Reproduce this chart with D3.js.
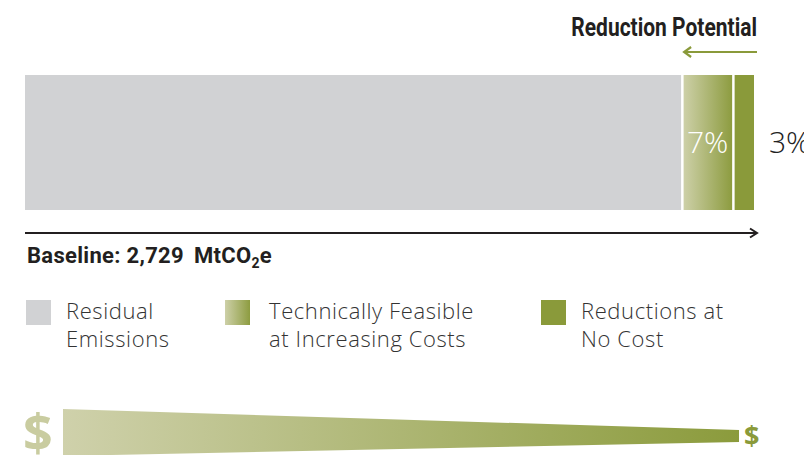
<!DOCTYPE html>
<html>
<head>
<meta charset="utf-8">
<script src="https://cdn.jsdelivr.net/npm/d3@7"></script>
<style>
  html, body { margin: 0; padding: 0; background: #fff; }
  svg { display: block; }
  .cond { font-family: Roboto, "Liberation Sans", sans-serif; font-weight: bold; }
  .light { font-family: "Open Sans", "Lato", "DejaVu Sans", sans-serif; font-weight: 300; }
</style>
</head>
<body>
<svg id="chart" width="804" height="455"></svg>
<script>
// Emission shares of the baseline (percent)
const categories = ["Residual Emissions", "Technically Feasible at Increasing Costs", "Reductions at No Cost"];
const legendLines = [["Residual", "Emissions"], ["Technically Feasible", "at Increasing Costs"], ["Reductions at", "No Cost"]];
const shares = [90, 7, 3];
const shareLabels = ["", "7%", "3%"];
const baselineValue = 2729;
const unitLabel = "MtCO";

const svg = d3.select("#chart");
const defs = svg.append("defs");

const grey = "#d1d2d4";
const green = "#8a9a3a";

const grad = defs.append("linearGradient").attr("id", "feasible").attr("x1", "0%").attr("x2", "100%");
grad.append("stop").attr("offset", "0%").attr("stop-color", "#cdd0a8");
grad.append("stop").attr("offset", "100%").attr("stop-color", "#8d9c40");

const costGrad = defs.append("linearGradient").attr("id", "cost").attr("x1", "0%").attr("x2", "100%");
costGrad.append("stop").attr("offset", "0%").attr("stop-color", "#cfd1ab");
costGrad.append("stop").attr("offset", "100%").attr("stop-color", "#8b9b3c");

const fills = [grey, "url(#feasible)", green];

// horizontal scale: percent of baseline
const x = d3.scaleLinear().domain([0, 100]).range([25, 754]);
const barTop = 75, barBottom = 210;

let cum = 0;
const segs = shares.map((v, i) => {
  const s = { i, v, x0: cum, x1: cum + v };
  cum += v;
  return s;
});

svg.append("g").selectAll("rect").data(segs).join("rect")
  .attr("x", d => x(d.x0) + (d.i > 0 ? 2.5 : 0))
  .attr("y", barTop)
  .attr("width", d => x(d.x1) - x(d.x0) - (d.i > 0 ? 2.5 : 0))
  .attr("height", barBottom - barTop)
  .attr("fill", d => fills[d.i]);

// share labels: inside the gradient segment, outside for the last one
svg.append("text").attr("class", "light")
  .attr("x", (x(segs[1].x0) + x(segs[1].x1)) / 2 + 1)
  .attr("y", 153).attr("text-anchor", "middle")
  .attr("font-size", 30).attr("fill", "#fff").text(shareLabels[1]);
svg.append("text").attr("class", "light")
  .attr("x", x(100) + 15).attr("y", 153)
  .attr("font-size", 30).attr("fill", "#222").text(shareLabels[2]);

// bold text, stretched or narrowed horizontally
function condensed(xPos, yPos, size, sx, anchor) {
  return svg.append("g").attr("transform", `translate(${xPos},${yPos}) scale(${sx},1)`)
    .append("text").attr("class", "cond").attr("font-size", size)
    .attr("text-anchor", anchor).attr("fill", "#231f20");
}

condensed(757, 36, 25, 0.84, "end").text("Reduction Potential");

svg.append("line").attr("x1", x(90) + 3).attr("x2", 757).attr("y1", 52).attr("y2", 52)
  .attr("stroke", green).attr("stroke-width", 2.2);
svg.append("path")
  .attr("d", `M${x(90) + 10},47 L${x(90) + 3},52 L${x(90) + 10},57`)
  .attr("fill", "none").attr("stroke", green).attr("stroke-width", 2.2);

// baseline axis arrow
svg.append("line").attr("x1", 25).attr("x2", 757).attr("y1", 233).attr("y2", 233)
  .attr("stroke", "#231f20").attr("stroke-width", 2);
svg.append("path").attr("d", "M750,228.5 L757,233 L750,237.5")
  .attr("fill", "none").attr("stroke", "#231f20").attr("stroke-width", 2);

const base = condensed(27, 263, 22, 1.0, "start").attr("letter-spacing", 0.3);
base.append("tspan").text("Baseline: " + d3.format(",")(baselineValue));
base.append("tspan").attr("dx", 10).text(unitLabel);
base.append("tspan").attr("font-size", 14).attr("dy", 5).text("2");
base.append("tspan").attr("dy", -5).text("e");

// legend
const legendX = [26, 225, 541];
const lg = svg.append("g").selectAll("g").data(categories).join("g")
  .attr("transform", (d, i) => `translate(${legendX[i]},300)`);
lg.append("rect").attr("width", 25).attr("height", 25).attr("fill", (d, i) => fills[i]);
lg.each(function(d, i) {
  const t = d3.select(this).append("text").attr("class", "light")
    .attr("x", 40).attr("y", 19).attr("font-size", 22).attr("letter-spacing", 0.6).attr("fill", "#333");
  legendLines[i].forEach((line, j) => {
    t.append("tspan").attr("x", i === 1 ? 44 : 40).attr("dy", j === 0 ? 0 : 28).text(line);
  });
});

// cost wedge: high cost on the left narrowing to low cost on the right
const wx = d3.scaleLinear().domain([0, 1]).range([63, 739]);
const topY = d3.scaleLinear().domain([0, 1]).range([409, 430]);
const botY = d3.scaleLinear().domain([0, 1]).range([456, 442]);
svg.append("path")
  .attr("d", `M${wx(0)},${topY(0)} L${wx(1)},${topY(1)} L${wx(1)},${botY(1)} L${wx(0)},${botY(0)} Z`)
  .attr("fill", "url(#cost)");

svg.append("text").attr("font-family", "'Open Sans', 'DejaVu Sans', sans-serif").attr("font-weight", "bold")
  .attr("x", 23).attr("y", 452).attr("font-size", 52).attr("fill", "#c9cca0").text("$");
svg.append("text").attr("font-family", "'Open Sans', 'DejaVu Sans', sans-serif").attr("font-weight", "bold")
  .attr("x", 744).attr("y", 445).attr("font-size", 27).attr("fill", green).text("$");
</script>
</body>
</html>
